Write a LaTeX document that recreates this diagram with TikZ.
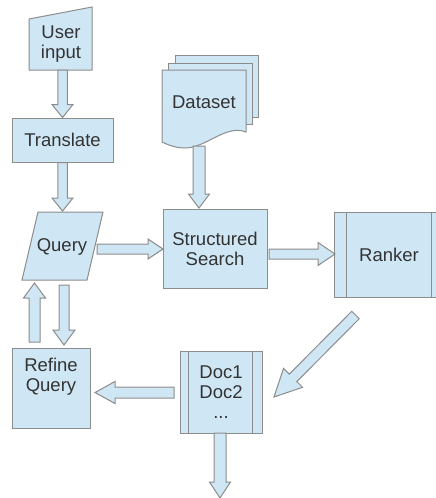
\documentclass[tikz,border=0pt]{standalone}
\usepackage{fontspec}
\setmainfont{Liberation Sans}
\usetikzlibrary{calc}
\definecolor{boxfill}{HTML}{CFE7F5}
\definecolor{boxline}{HTML}{8C8C8C}
\definecolor{txtcol}{HTML}{333333}
\tikzset{
  shapeline/.style={draw=boxline, fill=boxfill, line width=1pt, line join=miter},
  box/.style={shapeline, inner sep=0pt, text=txtcol, font=\fontsize{18.5}{20}\selectfont, align=center},
  lbl/.style={inner sep=0pt, text=txtcol, font=\fontsize{18.5}{20}\selectfont, align=center},
  arrowshape/.style={draw=boxline, fill=boxfill, line width=1pt, line join=miter},
}
% block arrow: from, to, half shaft width, half head width, head length
\newcommand{\blockarr}[5]{%
  \coordinate (bah) at ($(#2)!#5!(#1)$);
  \draw[arrowshape] ($(#1)!#3!90:(#2)$) -- ($(bah)!#3!90:(#2)$) -- ($(bah)!#4!90:(#2)$) -- (#2)
    -- ($(bah)!#4!-90:(#2)$) -- ($(bah)!#3!-90:(#2)$) -- ($(#1)!#3!-90:(#2)$) -- cycle;}
\begin{document}
\begin{tikzpicture}[x=1pt, y=-1pt]
\useasboundingbox (0,0) rectangle (436,498);
\clip (0,0) rectangle (436,498);

% User input (manual input)
\draw[shapeline] (29,19) -- (92,7) -- (92,70) -- (29,70) -- cycle;
\node[lbl] (ui) at (61,44) {User\\input};

% Translate
\node[box, minimum width=101pt, minimum height=44pt] (tr) at (62.5,140) {Translate};

% Query (parallelogram)
\draw[shapeline] (38,212) -- (103,212) -- (87,280) -- (22,280) -- cycle;
\node[lbl] (q) at (62,247) {Query};

% Dataset (multi document)
\draw[shapeline] (175,55) rectangle (258,117);
\draw[shapeline] (168,63) rectangle (252,124);
\draw[shapeline] (162,70) -- (246,70) -- (246,132)
  .. controls (226,124) and (206,148) .. (185,148)
  .. controls (176,148) and (168,145) .. (162,142) -- cycle;
\node[lbl] (ds) at (204,102) {Dataset};

% Structured Search
\node[box, minimum width=104pt, minimum height=79pt] (ss) at (215,248.5) {Structured\\Search};

% Ranker (predefined process)
\node[box, minimum width=110pt, minimum height=85pt] (rk) at (389,254.5) {Ranker};
\draw[draw=boxline, line width=1pt] ([xshift=13pt]rk.north west) -- ([xshift=13pt]rk.south west);
\draw[draw=boxline, line width=1pt] ([xshift=-13pt]rk.north east) -- ([xshift=-13pt]rk.south east);

% Refine Query
\node[box, minimum width=78pt, minimum height=80pt] (rf) at (51,388) {};
\node[lbl] (rfl) at (51,377) {Refine\\Query};

% Doc list (predefined process)
\node[box, minimum width=82pt, minimum height=82pt] (dc) at (221,392) {Doc1\\Doc2\\...};
\draw[draw=boxline, line width=1pt] ([xshift=9pt]dc.north west) -- ([xshift=9pt]dc.south west);
\draw[draw=boxline, line width=1pt] ([xshift=-10pt]dc.north east) -- ([xshift=-10pt]dc.south east);

% connector end points
\coordinate (ui-s) at (62.5,70);
\coordinate (q-n) at (62.5,211);
\coordinate (ds-s) at (199,146);
\coordinate (ss-n) at (199,208);
\coordinate (q-e) at (97,249);
\coordinate (ss-w) at (163,249);
\coordinate (ss-e) at (269,254);
\coordinate (rk-w) at (335,254);
\coordinate (rk-s) at (355.5,315);
\coordinate (dc-ne) at (274,397);
\coordinate (q-s2) at (64,285);
\coordinate (rf-n2) at (64,345);
\coordinate (rf-n1) at (34.5,342);
\coordinate (q-s1) at (34.5,283);
\coordinate (dc-w) at (174,392.5);
\coordinate (rf-e) at (95,392.5);
\coordinate (dc-s) at (220,433);
\coordinate (out) at (220,498);

% block arrows
\blockarr{ui-s}{tr.north}{4.75pt}{10.5pt}{13pt}
\blockarr{tr.south}{q-n}{4.75pt}{10.5pt}{13pt}
\blockarr{ds-s}{ss-n}{6pt}{10.5pt}{14pt}
\blockarr{q-e}{ss-w}{5pt}{10pt}{15pt}
\blockarr{ss-e}{rk-w}{5pt}{11.5pt}{17pt}
\blockarr{rk-s}{dc-ne}{5.3pt}{13.4pt}{27pt}
\blockarr{q-s2}{rf-n2}{5pt}{11pt}{15pt}
\blockarr{rf-n1}{q-s1}{5.5pt}{11pt}{15pt}
\blockarr{dc-w}{rf-e}{5.5pt}{11pt}{20pt}
\blockarr{dc-s}{out}{6pt}{10.5pt}{16pt}
\end{tikzpicture}
\end{document}
